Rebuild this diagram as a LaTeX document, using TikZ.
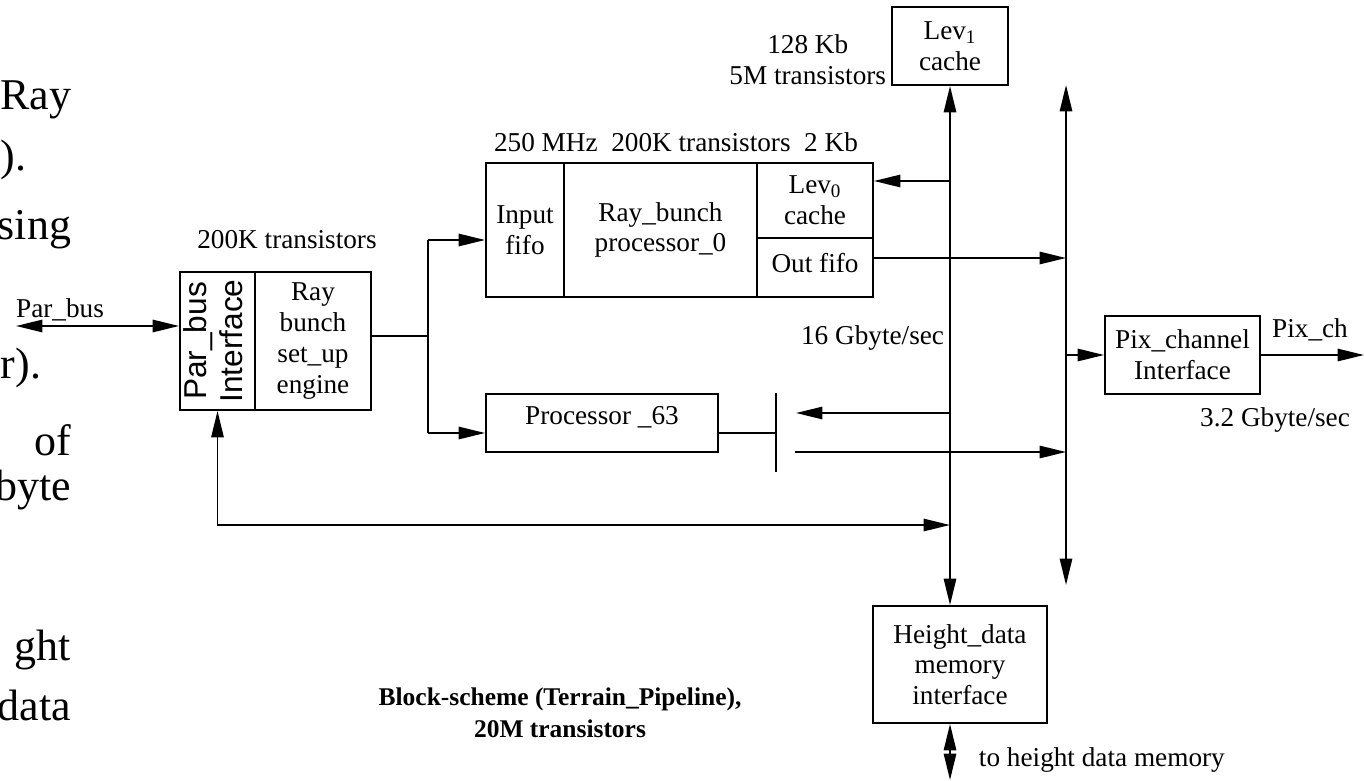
\documentclass[tikz,border=0pt]{standalone}
\usepackage{fontspec}
\setmainfont{Liberation Serif}
\setsansfont{Liberation Sans}
\usetikzlibrary{arrows.meta,positioning,calc}

\begin{document}
\begin{tikzpicture}[x=0.02cm,y=-0.02cm,line width=1.1pt,
    >={Triangle[length=15pt,width=7pt]},
    blk/.style={draw, inner sep=0pt, align=center, font=\fontsize{15.5}{17.5}\selectfont},
    lbl/.style={inner sep=0pt, align=center, font=\fontsize{15.5}{17.5}\selectfont},
    slide/.style={inner sep=0pt, font=\fontsize{25}{30}\selectfont}]
    \useasboundingbox (0,0) rectangle (1364,780);
    % text of the slide behind
    \node[slide, anchor=east] (w1) at (72,100) {Ray};
    \node[slide, anchor=west] (w2) at (0,160) {).};
    \node[slide, anchor=east] (w3) at (72,230) {sing};
    \node[slide, anchor=west] (w4) at (0,368) {r).};
    \node[slide, anchor=east] (w5) at (72,440) {of};
    \node[slide, anchor=east] (w6) at (72,490) {byte};
    \node[slide, anchor=east] (w7) at (72,650) {ght};
    \node[slide, anchor=east] (w8) at (72,705) {data};
    % blocks
    \node[blk, minimum width=2.32cm, minimum height=1.56cm] (lev1) at (950,46) {Lev\textsubscript{1}\\cache};
    \node[blk, minimum width=1.56cm, minimum height=2.68cm] (infifo) at (525,230) {Input\\fifo};
    \node[blk, minimum width=3.86cm, minimum height=2.68cm] (rbp) at (660.5,230) {Ray\_bunch\\processor\_0};
    \node[blk, minimum width=2.32cm, minimum height=1.5cm] (lev0) at (815,200.5) {Lev\textsubscript{0}\\cache};
    \node[blk, minimum width=2.32cm, minimum height=1.18cm] (outfifo) at (815,267.5) {\raisebox{5pt}{Out fifo}};
    \node[blk, minimum width=1.5cm, minimum height=2.76cm] (parbus) at (217.5,341)
        {\rotatebox{90}{\sffamily\fontsize{18}{20}\selectfont\begin{tabular}{@{}c@{}}Par\_bus\\Interface\end{tabular}}};
    \node[blk, minimum width=2.32cm, minimum height=2.76cm] (engine) at (313,341) {Ray\\bunch\\set\_up\\engine};
    \node[blk, minimum width=4.64cm, minimum height=1.16cm] (p63) at (602,423) {\raisebox{9pt}{Processor \_63}};
    \node[blk, minimum width=3.1cm, minimum height=1.56cm] (pix) at (1182.5,355) {Pix\_channel\\Interface};
    \node[blk, minimum width=3.48cm, minimum height=2.34cm] (hgt) at (960,664.5) {Height\_data\\memory\\interface};
    % labels
    \node[lbl, anchor=east] (l128) at (887,60) {128 Kb\\5M transistors};
    \node[lbl] (l250) at (676,142) {250 MHz\ \ 200K transistors\ \ 2 Kb};
    \node[lbl] (l200) at (287,240) {200K transistors};
    \node[lbl] (lpar) at (60,310) {Par\_bus};
    \node[lbl, anchor=east] (l16) at (945,338) {16 Gbyte/sec};
    \node[lbl] (lpix) at (1310,330) {Pix\_ch};
    \node[lbl] (l32) at (1275,420) {3.2 Gbyte/sec};
    \node[lbl, anchor=west] (lto) at (978,760) {to height data memory};
    \node[inner sep=0pt, align=center, font=\fontsize{14.5}{18.5}\selectfont\bfseries] (cap) at (560,713)
        {Block-scheme (Terrain\_Pipeline),\\20M transistors\hspace{1.2em}};
    % points
    \coordinate (b2t) at (1066,85);
    \coordinate (b2b) at (1066,585);
    \coordinate (c0) at (950,181);
    \coordinate (of) at (873,258);
    \coordinate (pbl) at (16,326);
    \coordinate (jn) at (428,336);
    \coordinate (jt) at (428,240);
    \coordinate (jb) at (428,433);
    \coordinate (bar) at (776,433);
    \coordinate (r1) at (950,413);
    \coordinate (r1e) at (796,413);
    \coordinate (r2) at (795,452);
    \coordinate (ret) at (950,525);
    \coordinate (pixout) at (1364,355);
    \coordinate (hout) at (950,780);
    % buses
    \draw[<->] (lev1.south) -- (lev1.south |- hgt.north);
    \draw[<->] (b2t) -- (b2b);
    \draw[->] (c0) -- (c0 -| lev0.east);
    \draw[->] (of) -- (of -| b2t);
    \draw[<->] (pbl) -- (pbl -| parbus.west);
    \draw (engine.east |- jn) -- (jn);
    \draw (jt) -- (jb);
    \draw[->] (jt) -- (jt -| infifo.west);
    \draw[->] (jb) -- (jb -| p63.west);
    \draw (p63.east |- bar) -- (bar);
    \draw ($(bar)+(0,-40)$) -- ($(bar)+(0,39)$);
    \draw[->] (r1) -- (r1e);
    \draw[->] (r2) -- (r2 -| b2t);
    \draw[->] (b2t |- pix.west) -- (pix.west);
    \draw[->] (pix.east) -- (pixout);
    \draw[<->] (parbus.south) |- (ret);
    \draw[<->] (hgt.south -| hout) -- (hout);
\end{tikzpicture}
\end{document}
